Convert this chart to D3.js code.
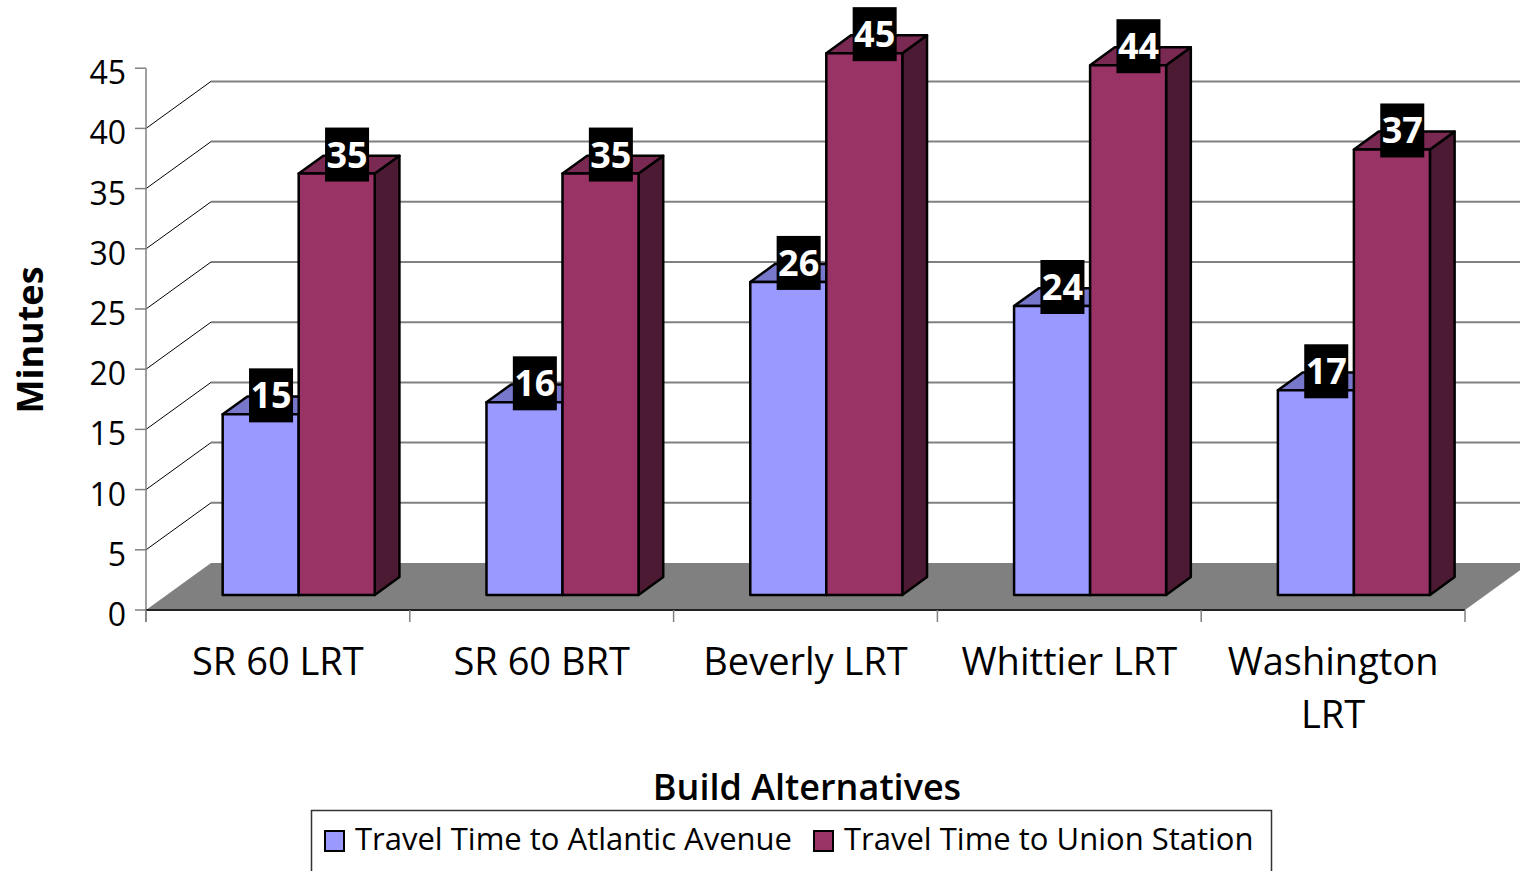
<!DOCTYPE html>
<html>
<head>
    <meta charset="utf-8">
    <title>Build Alternatives travel time</title>
    <script src="https://d3js.org/d3.v7.min.js"></script>
    <style>
        html, body { margin: 0; background: #fff; }
        svg { display: block; }
        text { font-family: "Open Sans", "DejaVu Sans", sans-serif; fill: #000; }
        .face { stroke: #000; stroke-width: 2.5px; stroke-linejoin: round; }
        .grid { stroke: #808080; stroke-width: 2px; }
        .wallLine { stroke: #000; stroke-width: 1px; }
        .axis { stroke: #808080; stroke-width: 1.5px; }
    </style>
</head>
<body>
    <script>
        const categories = ["SR 60 LRT", "SR 60 BRT", "Beverly LRT", "Whittier LRT", "Washington LRT"];
        const atlantic = [15, 16, 26, 24, 17];
        const union = [35, 35, 45, 44, 37];
        const seriesNames = ["Travel Time to Atlantic Avenue", "Travel Time to Union Station"];
        const yTicks = [0, 5, 10, 15, 20, 25, 30, 35, 40, 45];

        const width = 1520, height = 871;
        // colours: front, top, side
        const colors = [
            ["#9999ff", "#7777cc", "#4d4d80"],
            ["#993366", "#7a2952", "#4d1a33"]
        ];

        var svg = d3.select("body").append("svg")
            .attr("width", width)
            .attr("height", height);

        var x = d3.scaleBand().domain(categories).range([146, 1465]);
        var xs = d3.scaleBand().domain([0, 1]).range([0, x.bandwidth()]).paddingOuter(0.735);
        var y = d3.scaleLinear().domain([0, 45]).range([610, 68.2]);

        // depth of the 3d box
        const DX = 65, DY = -47;
        const z0 = 0.32, z1 = 0.70;
        function P(px, v, z) { return [px + z * DX, y(v) + z * DY]; }
        function poly(pts) { return pts.map(p => p.join(",")).join(" "); }

        // floor
        svg.append("polygon")
            .attr("points", poly([P(146, 0, 0), P(1465, 0, 0), P(1465, 0, 1), P(146, 0, 1)]))
            .attr("fill", "#808080");

        // back wall gridlines + side wall diagonals
        var gv = yTicks.filter(v => v > 0 && v < 45);
        svg.append("g").selectAll("line")
            .data(gv)
            .enter().append("line")
            .attr("class", "grid")
            .attr("x1", d => P(146, d, 1)[0]).attr("y1", d => P(146, d, 1)[1])
            .attr("x2", d => P(1465, d, 1)[0]).attr("y2", d => P(1465, d, 1)[1]);

        svg.append("g").selectAll("line")
            .data(gv)
            .enter().append("line")
            .attr("class", "wallLine")
            .attr("x1", d => P(146, d, 0)[0]).attr("y1", d => P(146, d, 0)[1])
            .attr("x2", d => P(146, d, 1)[0]).attr("y2", d => P(146, d, 1)[1]);

        // y axis
        svg.append("line").attr("class", "axis")
            .attr("x1", 146).attr("x2", 146).attr("y1", y(0) + 12).attr("y2", y(45));
        var yt = svg.append("g").selectAll("g").data(yTicks).enter().append("g");
        yt.append("line").attr("class", "axis")
            .attr("x1", 135).attr("x2", 146)
            .attr("y1", d => y(d)).attr("y2", d => y(d));
        yt.append("text")
            .attr("x", 126).attr("y", d => y(d))
            .attr("dy", "0.5em")
            .attr("text-anchor", "end")
            .attr("font-size", 32)
            .text(d => d);

        // x axis
        svg.append("line")
            .attr("x1", 146).attr("x2", 1465).attr("y1", y(0)).attr("y2", y(0))
            .attr("stroke", "#222").attr("stroke-width", 2);
        var xb = categories.map(c => x(c)).concat([1465]);
        svg.append("g").selectAll("line").data(xb).enter().append("line")
            .attr("class", "axis")
            .attr("x1", d => d).attr("x2", d => d)
            .attr("y1", y(0)).attr("y2", y(0) + 12);

        // category labels, wrapped to band width
        var cl = svg.append("g").selectAll("text").data(categories).enter().append("text")
            .attr("text-anchor", "middle")
            .attr("font-size", 38)
            .attr("y", 675)
            .attr("x", d => x(d) + x.bandwidth() / 2);
        cl.each(function(d) {
            var t = d3.select(this);
            var words = d.split(" "), lines = [];
            t.text(d);
            if (this.getComputedTextLength() > x.bandwidth() - 20) {
                lines = [words.slice(0, -1).join(" "), words[words.length - 1]];
            } else {
                lines = [d];
            }
            t.text(null);
            lines.forEach((l, i) => {
                t.append("tspan")
                    .attr("x", x(d) + x.bandwidth() / 2)
                    .attr("dy", i ? 53 : 0)
                    .text(l);
            });
        });

        // bars
        var bars = [];
        categories.forEach((c, i) => {
            [atlantic[i], union[i]].forEach((v, s) => {
                bars.push({ cat: c, s: s, v: v, x0: x(c) + xs(s), w: xs.bandwidth() });
            });
        });

        var bg = svg.append("g").selectAll("g").data(bars).enter().append("g");
        bg.append("polygon").attr("class", "face")
            .attr("fill", d => colors[d.s][2])
            .attr("points", d => poly([P(d.x0 + d.w, 0, z0), P(d.x0 + d.w, 0, z1), P(d.x0 + d.w, d.v, z1), P(d.x0 + d.w, d.v, z0)]));
        bg.append("polygon").attr("class", "face")
            .attr("fill", d => colors[d.s][1])
            .attr("points", d => poly([P(d.x0, d.v, z0), P(d.x0 + d.w, d.v, z0), P(d.x0 + d.w, d.v, z1), P(d.x0, d.v, z1)]));
        bg.append("polygon").attr("class", "face")
            .attr("fill", d => colors[d.s][0])
            .attr("points", d => poly([P(d.x0, 0, z0), P(d.x0 + d.w, 0, z0), P(d.x0 + d.w, d.v, z0), P(d.x0, d.v, z0)]));

        // data labels
        var lg = svg.append("g").selectAll("g").data(bars).enter().append("g")
            .attr("transform", d => {
                var cx = d.x0 + d.w / 2 + (z0 + z1) / 2 * DX - 2;
                var cy = y(d.v) + z0 * DY - 19;
                return "translate(" + cx + "," + cy + ")";
            });
        lg.append("rect")
            .attr("x", -22).attr("y", -27).attr("width", 44).attr("height", 54)
            .attr("fill", "#000");
        lg.append("text")
            .attr("text-anchor", "middle")
            .attr("y", 13)
            .attr("font-size", 36)
            .attr("font-weight", "bold")
            .style("fill", "#fff")
            .text(d => d.v);

        // axis titles
        svg.append("text")
            .attr("transform", "translate(43,340) rotate(-90)")
            .attr("text-anchor", "middle")
            .attr("font-size", 36)
            .attr("font-weight", "bold")
            .text("Minutes");

        svg.append("text")
            .attr("x", 807).attr("y", 800)
            .attr("text-anchor", "middle")
            .attr("font-size", 36)
            .attr("font-weight", 600)
            .text("Build Alternatives");

        // legend
        svg.append("rect")
            .attr("x", 311.5).attr("y", 810.5).attr("width", 960).attr("height", 90)
            .attr("fill", "none").attr("stroke", "#333").attr("stroke-width", 1.5);
        var legX = [325, 814];
        var le = svg.append("g").selectAll("g").data(seriesNames).enter().append("g")
            .attr("transform", (d, i) => "translate(" + legX[i] + ",831)");
        le.append("rect")
            .attr("width", 19).attr("height", 20)
            .attr("fill", (d, i) => colors[i][0])
            .attr("stroke", "#000").attr("stroke-width", 2);
        le.append("text")
            .attr("x", 30).attr("y", 19)
            .attr("font-size", 31)
            .text(d => d);
    </script>
</body>
</html>
